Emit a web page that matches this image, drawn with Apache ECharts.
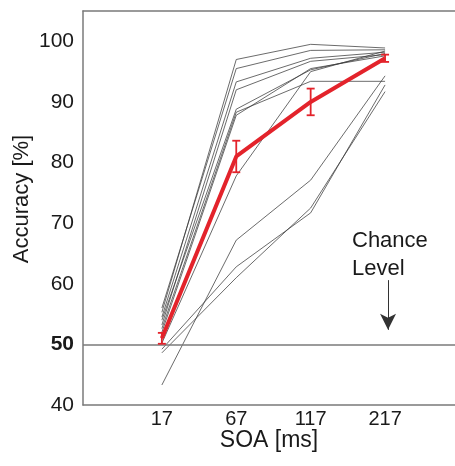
<!DOCTYPE html>
<html>
<head>
<meta charset="utf-8">
<script src="https://cdn.jsdelivr.net/npm/echarts@6/dist/echarts.min.js"></script>
<style>
html,body{margin:0;padding:0;background:#fff;}
#chart{width:455px;height:466px;}
</style>
</head>
<body>
<div id="chart"></div>
<script>
// ---- data ----
const soaLabels = ['17', '67', '117', '217'];
const yTickValues = [40, 50, 60, 70, 80, 90, 100];

const subject01 = [55.3, 97.0, 99.5, 98.9];
const subject02 = [56.0, 95.5, 98.5, 98.6];
const subject03 = [54.5, 93.3, 97.2, 98.2];
const subject04 = [53.2, 92.0, 96.7, 97.8];
const subject05 = [54.0, 88.8, 95.3, 98.0];
const subject06 = [52.6, 88.3, 93.4, 93.4];
const subject07 = [52.0, 87.8, 95.5, 97.6];
const subject08 = [50.2, 77.8, 95.0, 98.4];
const subject09 = [43.3, 67.2, 77.1, 94.3];
const subject10 = [49.2, 62.8, 71.7, 92.8];
const subject11 = [48.6, 61.0, 72.5, 91.7];

const meanAccuracy = [51.0, 81.0, 90.0, 97.2];
const semAccuracy = [0.9, 2.6, 2.2, 0.6];

const chanceLevel = 50;

const subjects = [subject01, subject02, subject03, subject04, subject05, subject06,
                  subject07, subject08, subject09, subject10, subject11];

const RED = '#e3232b';
const TXT = '#1a1a1a';
const FONT = 'Liberation Sans, Arial, sans-serif';

const toPoints = arr => arr.map((v, i) => [i, v]);

const series = subjects.map(s => ({
  type: 'line',
  data: toPoints(s),
  symbol: 'none',
  lineStyle: { color: '#3a3a3a', width: 1, opacity: 0.75 },
  silent: true,
  z: 2
}));

series.push({
  type: 'line',
  data: toPoints(meanAccuracy),
  symbol: 'none',
  lineStyle: { color: RED, width: 4 },
  z: 5,
  markLine: {
    silent: true,
    animation: false,
    symbol: ['none', 'none'],
    label: { show: false },
    data: [
      { yAxis: chanceLevel, lineStyle: { color: '#7a7a7a', width: 1.5, type: 'solid' } },
      [
        { coord: [3.04, 60.6], symbol: 'none', lineStyle: { color: '#333', width: 1, type: 'solid' } },
        { coord: [3.04, 52.4], symbol: 'arrow', symbolSize: [12, 16] }
      ]
    ],
    lineStyle: { color: '#333', width: 1, type: 'solid' },
    itemStyle: { color: '#111' }
  }
});

series.push({
  type: 'custom',
  data: meanAccuracy.map((m, i) => [i, m, semAccuracy[i]]),
  z: 6,
  renderItem: function (params, api) {
    const x = api.value(0), m = api.value(1), e = api.value(2);
    const top = api.coord([x, m + e]);
    const bot = api.coord([x, m - e]);
    const hw = 4;
    const st = { stroke: RED, lineWidth: 1.8 };
    return {
      type: 'group',
      children: [
        { type: 'line', shape: { x1: top[0], y1: top[1], x2: bot[0], y2: bot[1] }, style: st },
        { type: 'line', shape: { x1: top[0] - hw, y1: top[1], x2: top[0] + hw, y2: top[1] }, style: st },
        { type: 'line', shape: { x1: bot[0] - hw, y1: bot[1], x2: bot[0] + hw, y2: bot[1] }, style: st }
      ]
    };
  }
});

const chart = echarts.init(document.getElementById('chart'), null, { renderer: 'canvas' });
chart.setOption({
  animation: false,
  backgroundColor: '#fff',
  grid: { left: 83, right: 0, top: 11, bottom: 61 },
  xAxis: [{
    type: 'value',
    min: -1.06,
    max: 3.94,
    name: 'SOA [ms]',
    nameLocation: 'middle',
    nameGap: 24,
    nameMoveOverlap: false,
    nameTextStyle: { fontSize: 23, color: TXT, fontFamily: FONT },
    axisLine: { show: true, onZero: false, lineStyle: { color: '#7a7a7a', width: 1.5 } },
    axisTick: { show: false },
    splitLine: { show: false },
    axisLabel: {
      customValues: [0, 1, 2, 3],
      formatter: v => soaLabels[Math.round(v)] || '',
      fontSize: 20, color: TXT, fontFamily: FONT, margin: 4
    }
  }, {
    type: 'value',
    position: 'top',
    min: -1.06,
    max: 3.94,
    axisLine: { show: true, onZero: false, lineStyle: { color: '#7a7a7a', width: 1.5 } },
    axisTick: { show: false },
    axisLabel: { show: false },
    splitLine: { show: false }
  }],
  yAxis: {
    type: 'value',
    min: 40,
    max: 105,
    interval: 10,
    name: 'Accuracy [%]',
    nameLocation: 'middle',
    nameGap: 50,
    nameMoveOverlap: false,
    nameTextStyle: { fontSize: 22, color: TXT, fontFamily: FONT, padding: [0, 0, 0, 18] },
    axisLine: { show: true, onZero: false, lineStyle: { color: '#7a7a7a', width: 1.5 } },
    axisTick: { show: false },
    splitLine: { show: false },
    axisLabel: {
      showMaxLabel: false,
      fontSize: 21, color: TXT, fontFamily: FONT, margin: 9,
      formatter: v => yTickValues.indexOf(v) < 0 ? '' : (v === chanceLevel ? '{b|' + v + '}' : String(v)),
      rich: { b: { fontSize: 21, fontWeight: 'bold', color: TXT, fontFamily: FONT } }
    }
  },
  graphic: [{
    type: 'text',
    left: 352,
    top: 227,
    style: {
      text: 'Chance\nLevel',
      font: '22px ' + FONT,
      fill: TXT,
      lineHeight: 28
    }
  }],
  series: series
});
</script>
</body>
</html>
